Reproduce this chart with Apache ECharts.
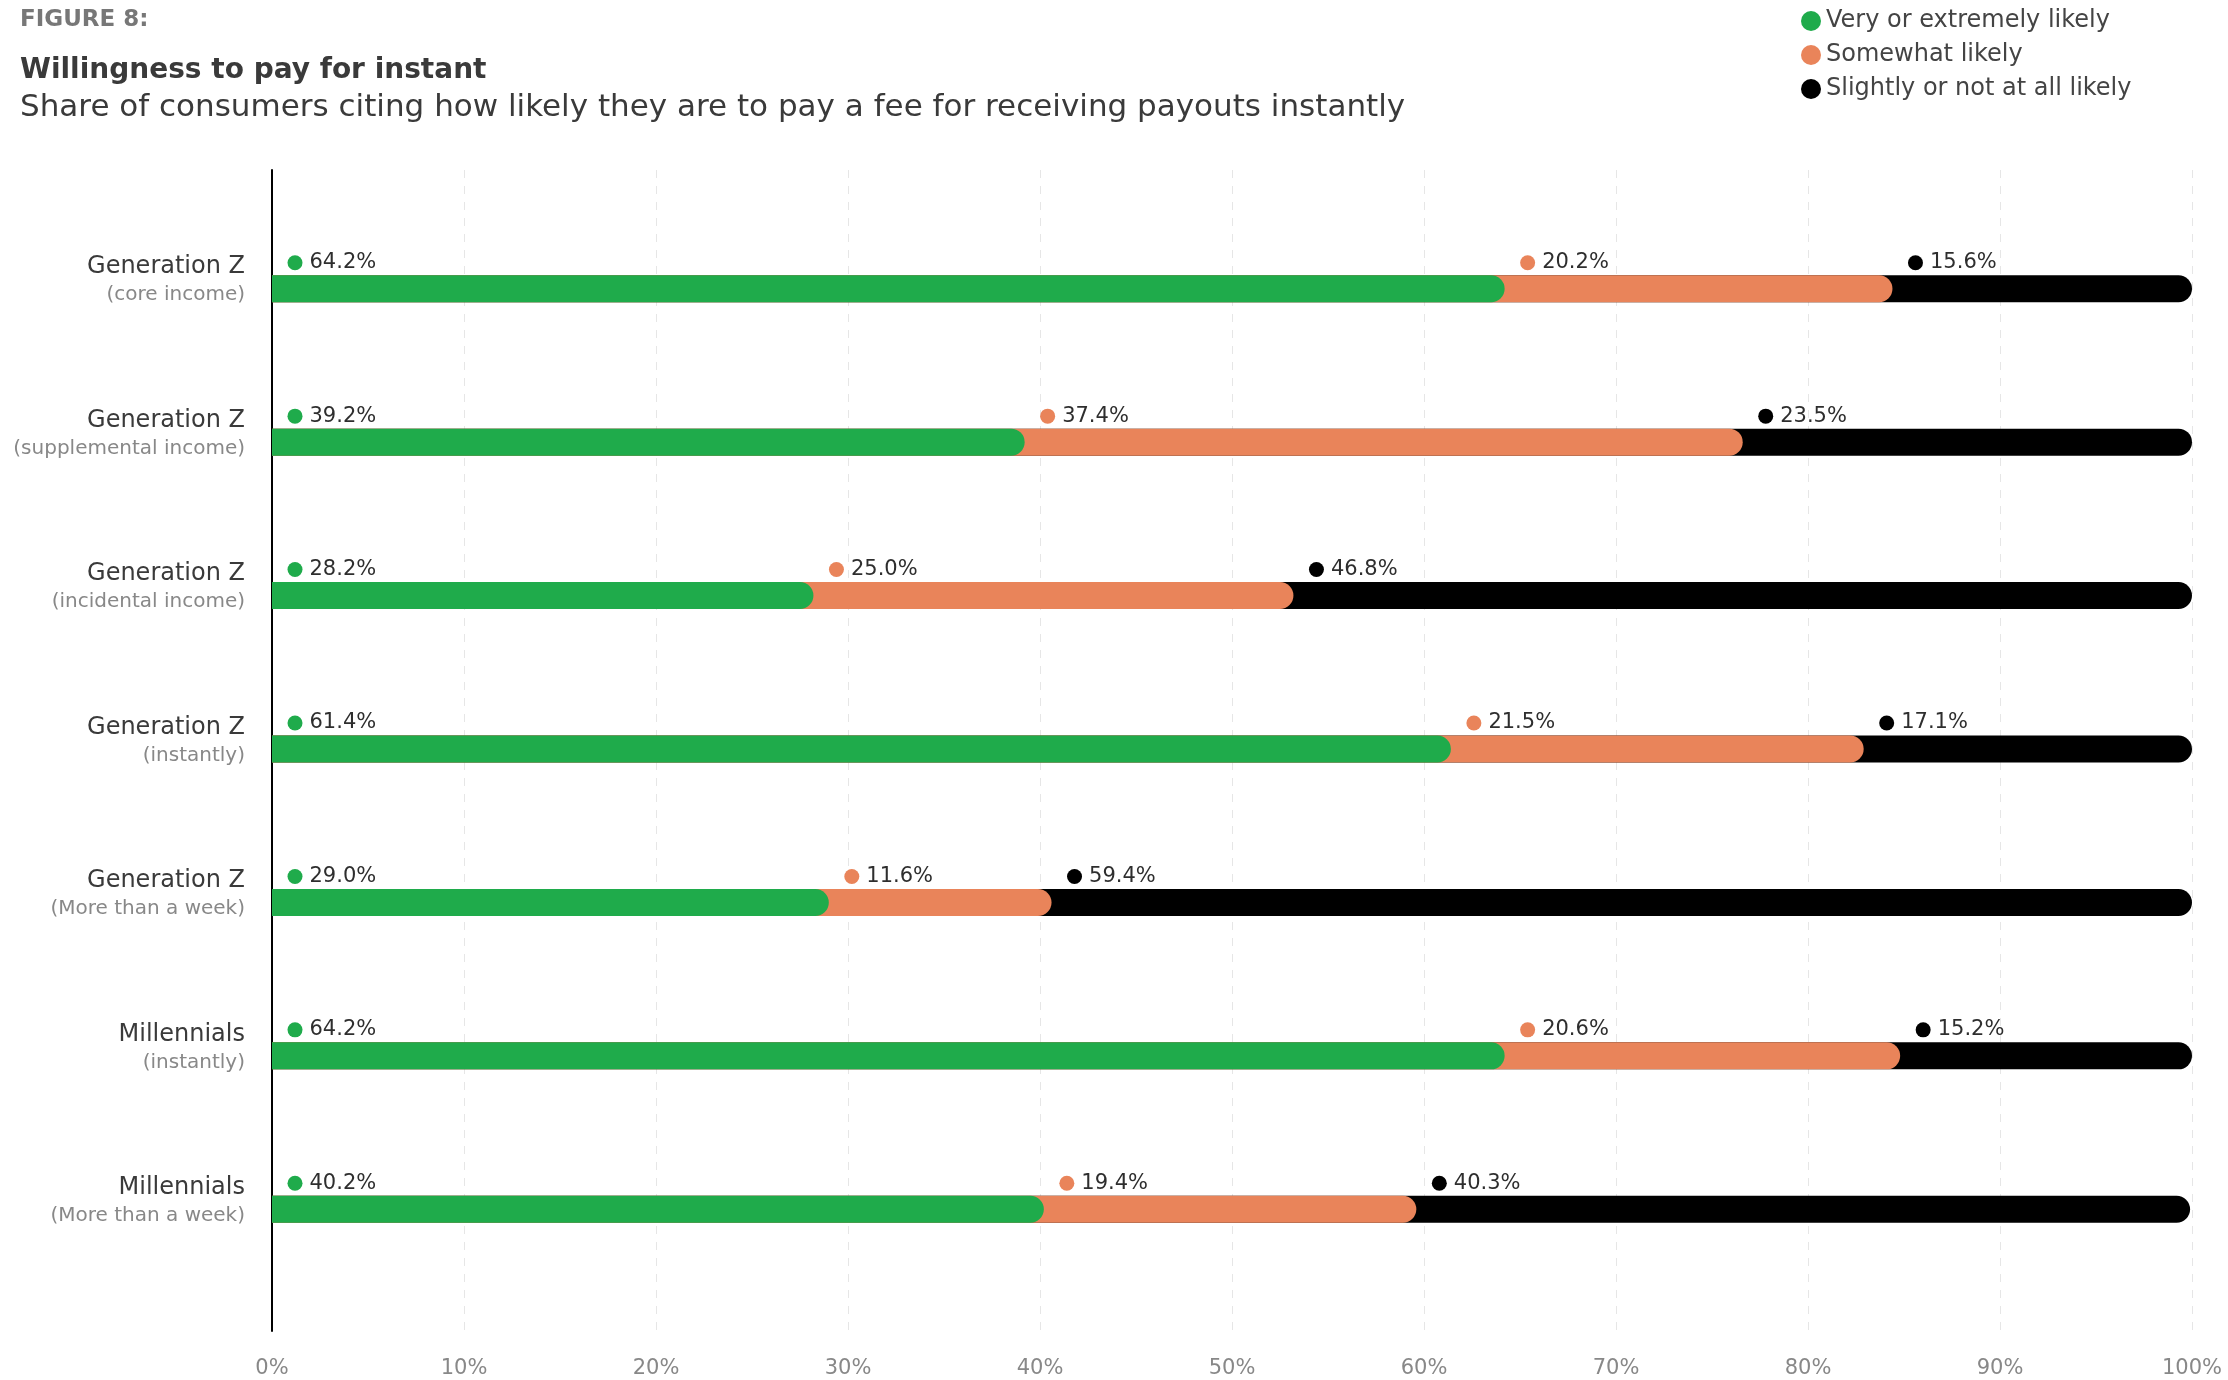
<!DOCTYPE html>
<html>
<head>
<meta charset="utf-8">
<script src="https://cdn.jsdelivr.net/npm/echarts@6/dist/echarts.min.js"></script>
<style>
html,body{margin:0;padding:0;background:#fff;}
#c{width:2228px;height:1380px;}
</style>
</head>
<body>
<div id="c"></div>
<script>
const groups = ["Generation Z","Generation Z","Generation Z","Generation Z","Generation Z","Millennials","Millennials"];
const subs = ["(core income)","(supplemental income)","(incidental income)","(instantly)","(More than a week)","(instantly)","(More than a week)"];
const seriesNames = ["Very or extremely likely","Somewhat likely","Slightly or not at all likely"];
const veryLikely = [64.2, 39.2, 28.2, 61.4, 29.0, 64.2, 40.2];
const somewhatLikely = [20.2, 37.4, 25.0, 21.5, 11.6, 20.6, 19.4];
const slightlyLikely = [15.6, 23.5, 46.8, 17.1, 59.4, 15.2, 40.3];
const xTicks = [0,10,20,30,40,50,60,70,80,90,100];

const colors = ["#1fab4b", "#e9845a", "#000000"];
const FONT = "DejaVu Sans";

const cats = groups.map((g,i)=>g + "|" + subs[i]);
const vals = [veryLikely, somewhatLikely, slightlyLikely];
const ends = vals.map((v,k)=>v.map((_,i)=>{let s=0;for(let j=0;j<=k;j++)s+=vals[j][i];return s;}));
const starts = vals.map((v,k)=>v.map((_,i)=>{let s=0;for(let j=0;j<k;j++)s+=vals[j][i];return s;}));

const chart = echarts.init(document.getElementById('c'), null, {renderer:'canvas'});

const barSeries = [2,1,0].map(k=>({
  type:'bar', name: seriesNames[k], xAxisIndex:1, yAxisIndex:1,
  data: ends[k], barWidth: 27, barGap:'-100%',
  itemStyle:{color: colors[k], borderRadius:[0,14,14,0]},
  silent:true, z:2, animation:false
}));
const dotSeries = [0,1,2].map(k=>({
  type:'scatter', name: seriesNames[k], xAxisIndex:1, yAxisIndex:1,
  data: starts[k].map((s,i)=>[s,i]),
  symbol:'circle', symbolSize:15, symbolOffset:[23,-26],
  itemStyle:{color: colors[k], opacity:1},
  label:{show:true, position:'right', distance:7, color:'#2e2e2e', fontFamily:FONT, fontSize:21,
    formatter: p=>vals[k][p.dataIndex].toFixed(1)+'%'},
  z:5, animation:false, silent:true
}));

chart.setOption({
  backgroundColor:'#fff',
  animation:false,
  title:[
    {text:'FIGURE 8:', left:20, top:9, padding:0, textStyle:{fontFamily:FONT, fontSize:23, fontWeight:'bold', color:'#777'}},
    {text:'Willingness to pay for instant', left:20, top:57, padding:0, textStyle:{fontFamily:FONT, fontSize:28, fontWeight:'bold', color:'#3a3a3a'}},
    {text:'Share of consumers citing how likely they are to pay a fee for receiving payouts instantly', left:20, top:92, padding:0, textStyle:{fontFamily:FONT, fontSize:31, fontWeight:'normal', color:'#3a3a3a'}}
  ],
  legend:{
    orient:'vertical', left:1796, top:4, itemWidth:20, itemHeight:20, itemGap:10,
    icon:'circle', data: seriesNames,
    textStyle:{fontFamily:FONT, fontSize:24, color:'#444', lineHeight:24}
  },
  grid:[
    {left:272, right:36, top:170, bottom:49},
    {left:272, right:36, top:212, bottom:94}
  ],
  xAxis:[
    {gridIndex:0, type:'value', min:0, max:100, interval:10,
     axisLine:{show:false}, axisTick:{show:false},
     splitLine:{show:true, lineStyle:{color:'#e6e6e6', type:[8,8], width:1}},
     axisLabel:{margin:27, fontFamily:FONT, fontSize:21,
       formatter: v=>v+'%', color: (v)=> (v===0 ? '#444' : '#888')}},
    {gridIndex:1, type:'value', min:0, max:100, show:false}
  ],
  yAxis:[
    {gridIndex:0, type:'value', min:0, max:1, axisLine:{show:true, onZero:false, lineStyle:{color:'#000', width:2}},
     axisTick:{show:false}, axisLabel:{show:false}, splitLine:{show:false}},
    {gridIndex:1, type:'category', data:cats, inverse:true,
     axisLine:{show:false}, axisTick:{show:false}, splitLine:{show:false},
     axisLabel:{margin:27, align:'right',
       formatter: v=>{const p=v.split('|'); return '{a|'+p[0]+'}\n{b|'+p[1]+'}';},
       padding:[0,0,17,0],
       rich:{
         a:{fontFamily:FONT, fontSize:24, color:'#3a3a3a', lineHeight:30, align:'right'},
         b:{fontFamily:FONT, fontSize:20, color:'#888', lineHeight:26, align:'right'}
       }}}
  ],
  series:[...barSeries, ...dotSeries]
});
</script>
</body>
</html>
